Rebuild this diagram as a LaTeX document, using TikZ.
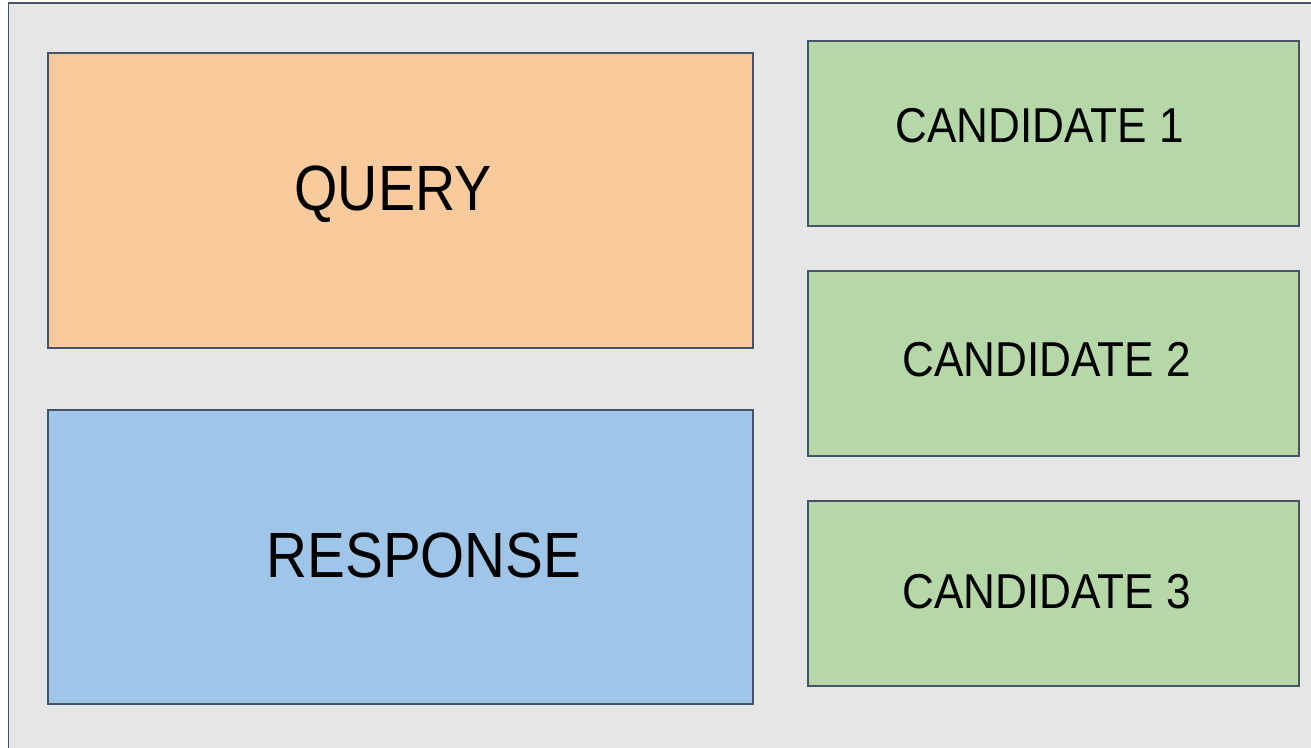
\documentclass[tikz,border=0pt]{standalone}
\usepackage{fontspec}
\setmainfont{Liberation Sans}
\definecolor{frame}{RGB}{70,84,104}
\definecolor{panel}{RGB}{230,230,230}
\definecolor{queryfill}{RGB}{249,203,156}
\definecolor{respfill}{RGB}{159,197,232}
\definecolor{candfill}{RGB}{182,215,168}
\tikzset{
  box/.style={draw=frame, line width=1.6pt, rectangle, inner sep=0pt},
  bigtext/.style={anchor=base, inner sep=0pt, font=\fontsize{64}{64}\selectfont},
  candtext/.style={anchor=base, inner sep=0pt, font=\fontsize{49}{49}\selectfont},
}
\begin{document}
\begin{tikzpicture}[x=1pt, y=-1pt]
  \useasboundingbox (0,0) rectangle (1311,747);
  % outer panel
  \draw[box, fill=panel] (8.5,3) rectangle (1330,770);
  % boxes
  \node[box, fill=queryfill, minimum width=705pt, minimum height=295pt] (query) at (400.5,200.5) {};
  \node[box, fill=respfill, minimum width=705pt, minimum height=294pt] (response) at (400.5,557) {};
  \node[box, fill=candfill, minimum width=491pt, minimum height=185pt] (cand1) at (1053.5,133.5) {};
  \node[box, fill=candfill, minimum width=491pt, minimum height=185pt] (cand2) at (1053.5,363.5) {};
  \node[box, fill=candfill, minimum width=491pt, minimum height=185pt] (cand3) at (1053.5,593.5) {};
  % labels
  \node[bigtext] (queryText) at (393,210) {\scalebox{0.87}[1]{QUERY}};
  \node[bigtext] (responseText) at (424,577) {\scalebox{0.885}[1]{RESPONSE}};
  \node[candtext] (cand1Text) at (1039.5,142) {\scalebox{0.9}[1]{CANDIDATE 1}};
  \node[candtext] (cand2Text) at (1046.5,376) {\scalebox{0.9}[1]{CANDIDATE 2}};
  \node[candtext] (cand3Text) at (1046.5,608) {\scalebox{0.9}[1]{CANDIDATE 3}};
\end{tikzpicture}
\end{document}
